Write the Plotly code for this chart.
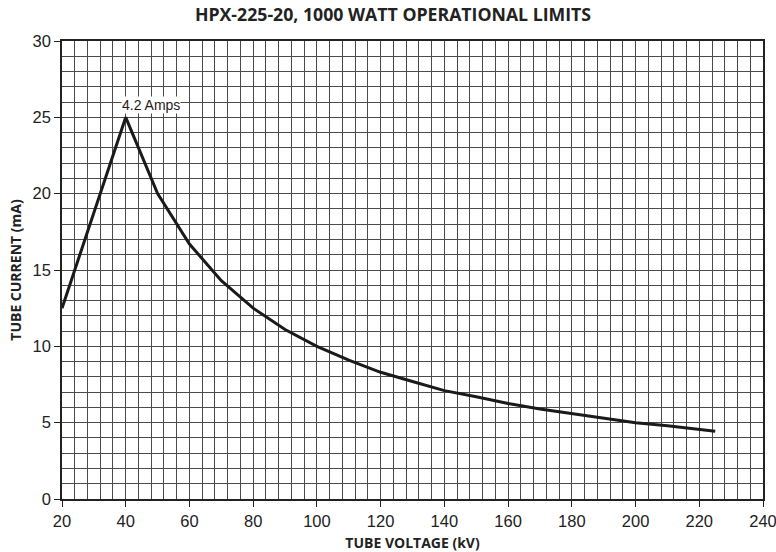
import plotly.graph_objects as go

voltage_kv = [20, 40, 50, 60, 70, 80, 90, 100, 110, 120, 130, 140, 150, 160, 170, 180, 190, 200, 210, 220, 225]
current_ma = [12.5, 25, 20, 16.7, 14.3, 12.5, 11.1, 10, 9.1, 8.3, 7.7, 7.1, 6.7, 6.25, 5.9, 5.6, 5.3, 5.0, 4.8, 4.55, 4.44]
x_ticks = [20, 40, 60, 80, 100, 120, 140, 160, 180, 200, 220, 240]
y_ticks = [0, 5, 10, 15, 20, 25, 30]
peak_label = "4.2 Amps"

grid_col = "#4a4a4a"
title_font = "Open Sans, Lato, sans-serif"

W, H = 776, 552

fig = go.Figure()
fig.add_trace(go.Scatter(x=voltage_kv, y=current_ma, mode="lines",
                         line=dict(color="#1a1a1a", width=3), showlegend=False,
                         hoverinfo="x+y"))

fig.add_annotation(x=40, y=25, text=peak_label, showarrow=False, yshift=12,
                   xanchor="left", xshift=-5,
                   bgcolor="white", font=dict(family="Liberation Sans, Arial", size=14, color="#222"),
                   borderpad=0)

fig.update_layout(
    width=W, height=H,
    margin=dict(l=62, r=13, t=41, b=53, autoexpand=False),
    paper_bgcolor="white", plot_bgcolor="white",
    title=dict(text="<b>HPX-225-20, 1000 WATT OPERATIONAL LIMITS</b>", x=393 / W, xanchor="center",
               xref="container", y=1 - 15/H, yanchor="middle", automargin=False,
               font=dict(family=title_font, size=17.7, color="#222")),
    font=dict(family="Liberation Sans, Arial", color="#222"),
)

fig.update_xaxes(
    range=[20, 240], tickvals=x_ticks, ticks="outside", ticklen=6, tickcolor="#222",
    tickfont=dict(size=16.5), showline=True, linecolor="#222", linewidth=1.5, mirror=True,
    showgrid=True, gridcolor=grid_col, gridwidth=1,
    minor=dict(dtick=4, tick0=20, showgrid=True, gridcolor=grid_col, gridwidth=1),
    zeroline=False, automargin=False, ticklabeloverflow="allow",
    title=dict(text="<b>TUBE VOLTAGE (kV)</b>", font=dict(family=title_font, size=14), standoff=12),
)
fig.update_yaxes(
    range=[0, 30], tickvals=y_ticks, ticks="outside", ticklen=6, tickcolor="#222",
    tickfont=dict(size=16.5), showline=True, linecolor="#222", linewidth=1.5, mirror=True,
    showgrid=True, gridcolor=grid_col, gridwidth=1,
    minor=dict(dtick=1, tick0=0, showgrid=True, gridcolor=grid_col, gridwidth=1),
    zeroline=False, automargin=False,
    title=dict(text="<b>TUBE CURRENT (mA)</b>", font=dict(family=title_font, size=14), standoff=8),
)

fig.write_html("out.html", config={"displayModeBar": False},
               post_script="document.body.style.margin='0';document.body.style.overflow='hidden';")
